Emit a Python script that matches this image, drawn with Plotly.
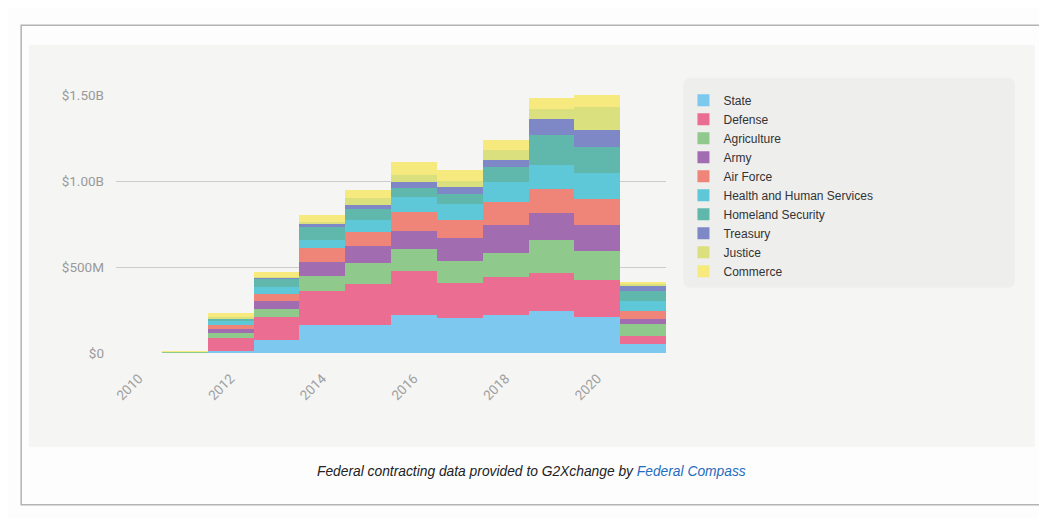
import plotly.graph_objects as go

# ---------------- data (values in $ millions) ----------------
years = [2010, 2011, 2012, 2013, 2014, 2015, 2016, 2017, 2018, 2019, 2020, 2021]

state      = [0, 2, 14, 78, 165, 165, 223, 202, 223, 246, 211, 54]
defense    = [0, 1, 71, 129, 194, 238, 256, 205, 217, 217, 215, 47]
agriculture= [0, 4, 29, 51, 91, 118, 126, 126, 139, 192, 169, 66]
army       = [0, 0.5, 24, 46, 79, 101, 106, 136, 163, 161, 147, 33]
air_force  = [0, 0.5, 23, 41, 80, 80, 111, 106, 134, 139, 153, 42]
hhs        = [0, 0.5, 23, 39, 50, 71, 83, 93, 116, 138, 152, 60]
homeland   = [0, 0.5, 14, 44, 74, 66, 54, 56, 89, 176, 153, 58]
treasury   = [0, 0, 5, 12, 17, 23, 33, 39, 41, 91, 95, 31]
justice    = [0, 0, 4, 4, 10, 39, 45, 35, 56, 57, 133, 8]
commerce   = [0, 0.5, 24, 29, 42, 45, 75, 68, 58, 64, 70, 14]

series_names = ["State", "Defense", "Agriculture", "Army", "Air Force",
                "Health and Human Services", "Homeland Security", "Treasury",
                "Justice", "Commerce"]
series_values = [state, defense, agriculture, army, air_force, hhs,
                 homeland, treasury, justice, commerce]
colors = ["#7cc8ee", "#eb6d92", "#8fc98b", "#a26db0", "#ef8578",
          "#5ec8d8", "#60b8ac", "#7f88c6", "#dbe07e", "#f6ea7e"]

y_tickvals = [0, 500, 1000, 1500]
y_ticktext = ["$0", "$500M", "$1.00B", "$1.50B"]
x_tickvals = [2010, 2012, 2014, 2016, 2018, 2020]
x_ticktext = ["2010", "2012", "2014", "2016", "2018", "2020"]

caption = ("<i>Federal contracting data provided to G2Xchange by "
           "<span style='color:#1f6cc0'>Federal Compass</span></i>")

# ---------------- layout geometry (viewport pixels) ----------------
OFF = 8                      # page body margin
VW, VH = 1047, 527
W, H = VW - OFF, VH - 2 * OFF
PL, PR, PT, PB = 115.5, 666.5, 95.3, 353.3


def px(x):
    return (x - PL) / (PR - PL)


def py(y):
    return (PB - y) / (PB - PT)


fig = go.Figure()
for name, vals, col in zip(series_names, series_values, colors):
    fig.add_trace(go.Bar(x=years, y=vals, name=name,
                         marker=dict(color=col, line=dict(width=0))))


def rounded(x0, y0, x1, y1, r):
    X0, X1 = px(x0), px(x1)
    Y0, Y1 = py(y0), py(y1)
    rx = r / (PR - PL)
    ry = r / (PB - PT)
    return (f"M{X0+rx},{Y0} L{X1-rx},{Y0} Q{X1},{Y0} {X1},{Y0-ry} "
            f"L{X1},{Y1+ry} Q{X1},{Y1} {X1-rx},{Y1} L{X0+rx},{Y1} "
            f"Q{X0},{Y1} {X0},{Y1+ry} L{X0},{Y0-ry} Q{X0},{Y0} {X0+rx},{Y0} Z")


shapes = [
    # inner box
    dict(type="rect", xref="paper", yref="paper", x0=px(20.5), x1=px(1043.5), y0=py(25.5), y1=py(505),
         line=dict(color="#b3b3b3", width=1.5), fillcolor="#fdfdfd", layer="below"),
    # chart panel
    dict(type="rect", xref="paper", yref="paper", x0=px(28), x1=px(1036), y0=py(45), y1=py(447),
         line=dict(width=0), fillcolor="#f5f5f4", layer="below"),
    # legend panel
    dict(type="path", xref="paper", yref="paper", path=rounded(684, 78, 1016, 288, 7),
         line=dict(width=0), fillcolor="#eeeeed", layer="below"),
]

fig.update_layout(
    width=W, height=H,
    margin=dict(l=PL - OFF, r=VW - PR, t=PT - OFF, b=(OFF + H) - PB, autoexpand=False),
    paper_bgcolor="#fdfdfd",
    plot_bgcolor="rgba(0,0,0,0)",
    barmode="stack",
    bargap=0,
    shapes=shapes,
    font=dict(family="Roboto, Liberation Sans, Arial", color="#999999"),
    xaxis=dict(range=[2009.5, 2021.5], tickvals=x_tickvals, ticktext=x_ticktext,
               tickangle=-45, showgrid=False, zeroline=False, showline=False,
               ticks="", ticklabelstandoff=14,
               tickfont=dict(size=13.5, color="#a0a0a0")),
    yaxis=dict(range=[0, 1500], tickvals=y_tickvals, ticktext=y_ticktext,
               showgrid=True, gridcolor="#cccccc", gridwidth=1, zeroline=False,
               showline=False, ticks="", ticklabelstandoff=11,
               tickfont=dict(size=13.5, color="#9a9a9a")),
    legend=dict(x=px(684), y=py(86), xanchor="left", yanchor="top",
                bgcolor="rgba(0,0,0,0)", traceorder="normal",
                font=dict(family="Liberation Sans, Arial", size=12, color="#333333")),
    annotations=[dict(text=caption, xref="paper", yref="paper", x=px(532), y=py(472),
                      xanchor="center", yanchor="middle", showarrow=False,
                      font=dict(family="Liberation Sans, Arial", size=13.8, color="#222222"))],
    showlegend=True,
)

fig.write_html("out.html", default_width=f"{W}px", default_height=f"{H}px")
